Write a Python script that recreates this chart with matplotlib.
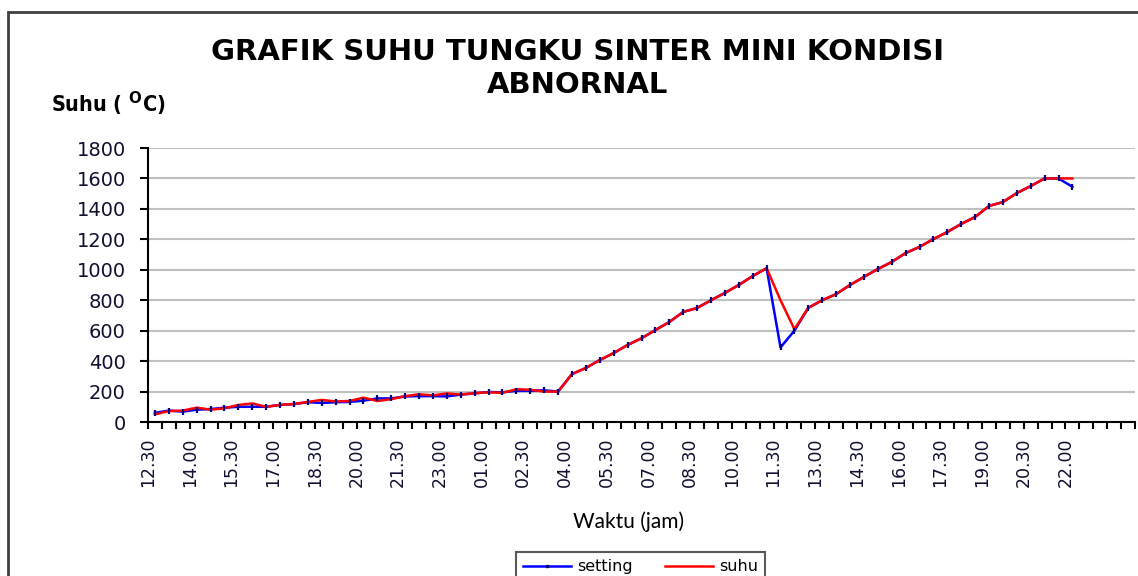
import matplotlib
matplotlib.use("Agg")
import matplotlib.pyplot as plt
from matplotlib.patches import Rectangle
from matplotlib.lines import Line2D
import numpy as np

# ---- data ----
time_labels = ["12.30", "14.00", "15.30", "17.00", "18.30", "20.00", "21.30", "23.00",
               "01.00", "02.30", "04.00", "05.30", "07.00", "08.30", "10.00", "11.30",
               "13.00", "14.30", "16.00", "17.30", "19.00", "20.30", "22.00"]
label_every = 3
n_categories = 71

setting = [60, 75, 68, 81, 85, 94, 100, 100, 100, 112,
           118, 130, 125, 130, 132, 140, 155, 155, 168, 170,
           170, 168, 180, 188, 197, 195, 205, 205, 208, 200,
           315, 355, 407, 453, 506, 550, 604, 657, 723, 749,
           800, 848, 900, 959, 1010, 490, 600, 750, 800, 840,
           900, 953, 1005, 1051, 1110, 1150, 1202, 1248, 1301, 1347,
           1419, 1445, 1504, 1550, 1600, 1600, 1545]
suhu = [50, 72, 75, 94, 81, 90, 112, 122, 100, 112,
        118, 132, 145, 135, 138, 160, 138, 150, 170, 182,
        175, 188, 180, 190, 195, 192, 215, 212, 200, 200,
        315, 355, 407, 453, 506, 550, 604, 657, 723, 749,
        800, 848, 900, 959, 1010, 800, 610, 750, 800, 840,
        900, 953, 1005, 1051, 1110, 1150, 1202, 1248, 1301, 1347,
        1419, 1445, 1504, 1550, 1600, 1600, 1600]
y_ticks = [0, 200, 400, 600, 800, 1000, 1200, 1400, 1600, 1800]

W, H = 1138, 576
fig = plt.figure(figsize=(W / 100, H / 100), dpi=100)
fig.patch.set_facecolor("white")

ax = fig.add_axes([148 / W, (H - 422) / H, (1135 - 148) / W, (422 - 148) / H])
x = np.arange(len(setting))

ax.plot(x, setting, color="#0000FF", lw=1.8, zorder=3, label="setting")
ax.plot(x, suhu, color="#FF0000", lw=1.8, zorder=4, label="suhu")
ax.plot(x, setting, ls="none", marker="|", ms=4, mew=1.6, color="#000080", zorder=5)

ax.set_xlim(-0.5, n_categories - 0.5)
ax.set_ylim(0, 1800)
ax.set_yticks(y_ticks)
ax.set_yticklabels([str(v) for v in y_ticks], fontsize=14, family="DejaVu Sans", color="#101030")
ax.yaxis.grid(True, color="#C0C0C0", lw=1.5)
ax.set_axisbelow(True)

bounds = np.arange(n_categories + 1) - 0.5
ax.set_xticks(bounds)
lbls = [""] * len(bounds)
for i, t in enumerate(time_labels):
    lbls[i * label_every] = t
ax.set_xticklabels(lbls, rotation=90, fontsize=12.5, family="DejaVu Sans", color="#101030",
                   va="top", ha="center")

for s in ["top", "right"]:
    ax.spines[s].set_visible(False)
for s in ["left", "bottom"]:
    ax.spines[s].set_color("black")
    ax.spines[s].set_linewidth(1.5)
ax.tick_params(axis="y", direction="out", length=6, width=1.5, pad=10)
ax.tick_params(axis="x", direction="out", length=5, width=1.5, pad=6)

# title
fig.text(578 / W, 1 - 60 / H, "GRAFIK SUHU TUNGKU SINTER MINI KONDISI", ha="center",
         va="baseline", fontsize=21, fontweight="bold", family="DejaVu Sans")
fig.text(578 / W, 1 - 93 / H, "ABNORNAL", ha="center", va="baseline",
         fontsize=21, fontweight="bold", family="DejaVu Sans")

# y label
plt.rcParams["mathtext.fontset"] = "custom"
plt.rcParams["mathtext.rm"] = "DejaVu Sans:bold"
plt.rcParams["mathtext.bf"] = "DejaVu Sans:bold"
plt.rcParams["mathtext.it"] = "DejaVu Sans:bold"
fig.text(51 / W, 1 - 112 / H, r"Suhu ( $^{\mathrm{O}}$C)", ha="left", va="baseline",
         fontsize=15.5, fontweight="bold", family="DejaVu Sans", stretch="condensed")

# x label
fig.text(629 / W, 1 - 528 / H, "Waktu (jam)", ha="center", va="baseline",
         fontsize=15, family=["Lato", "DejaVu Sans"])

# legend
h1 = Line2D([], [], color="#0000FF", lw=1.8, marker="s", ms=2, mfc="#000080", mec="#000080")
h2 = Line2D([], [], color="#FF0000", lw=1.8)
leg = fig.legend([h1, h2], ["setting", "suhu"], loc="upper center",
                 bbox_to_anchor=(640.5 / W, 1 - 544 / H), ncol=2, fancybox=False,
                 frameon=True, prop={"family": "DejaVu Sans", "size": 11.5},
                 handlelength=3.0, handletextpad=0.4, columnspacing=2.0,
                 borderpad=0.45, markerscale=1.0)
leg.get_frame().set_edgecolor("#303030")
leg.get_frame().set_linewidth(1.5)

# outer chart border
fig.patches.append(Rectangle((8 / W, -0.2), 1.2, 1.2 - 12 / H, transform=fig.transFigure,
                             fill=False, edgecolor="#404040", lw=2, figure=fig))

fig.savefig("out.png", dpi=100)
